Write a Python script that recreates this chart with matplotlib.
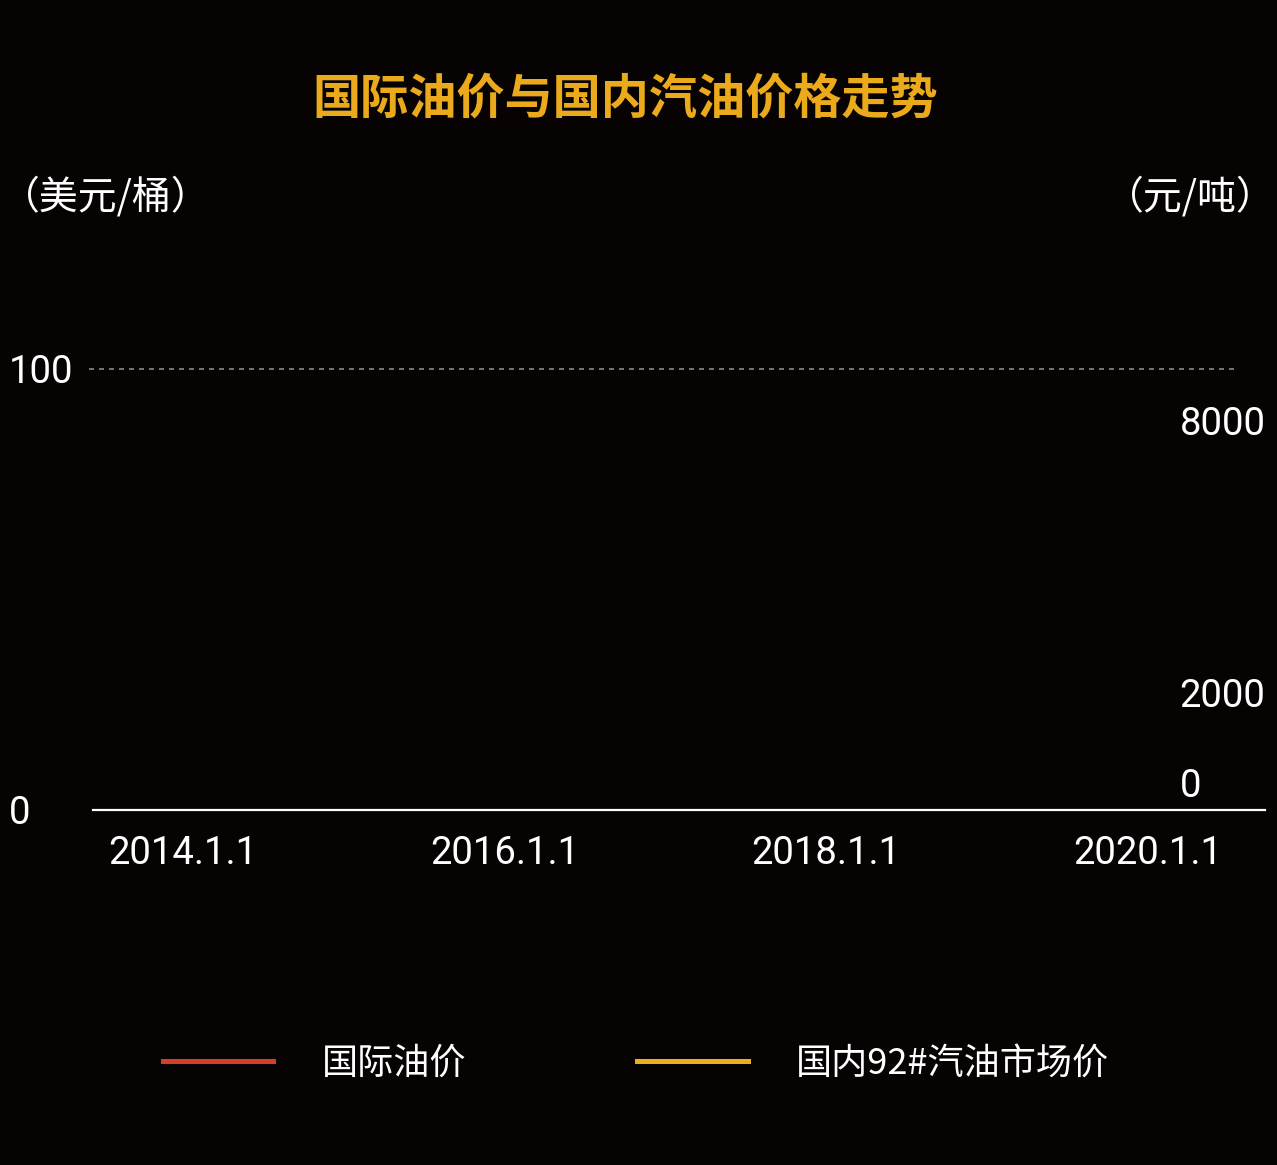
import matplotlib
matplotlib.use("Agg")
import matplotlib.pyplot as plt
import matplotlib.dates as mdates
from datetime import datetime

# ---- data (series are empty in the reference frame) ----
title = "国际油价与国内汽油价格走势"
series_names = ["国际油价", "国内92#汽油市场价"]
series_colors = ["#D43F2A", "#EBAF1A"]
dates = []
intl_oil = []          # 美元/桶
domestic_92 = []       # 元/吨
x_ticks = ["2014.1.1", "2016.1.1", "2018.1.1", "2020.1.1"]
left_ticks = [0, 100]
right_ticks = [0, 2000, 8000]
left_unit = "（美元/桶）"
right_unit = "（元/吨）"

BG = "#070303"
plt.rcParams['font.family'] = ['Roboto', 'Noto Sans CJK SC', 'DejaVu Sans']

W, H = 1277, 1165
fig = plt.figure(figsize=(W / 100, H / 100), dpi=100, facecolor=BG)

ax_l, ax_r, ax_b, ax_t = 93, 1265, 810, 369
ax = fig.add_axes([ax_l / W, 1 - ax_b / H, (ax_r - ax_l) / W, (ax_b - ax_t) / H])
ax.set_facecolor(BG)

xt = [datetime.strptime(s, "%Y.%m.%d") for s in x_ticks]
l1, = ax.plot(dates, intl_oil, color=series_colors[0], lw=4, label=series_names[0])
ax2 = ax.twinx()
l2, = ax2.plot(dates, domestic_92, color=series_colors[1], lw=4, label=series_names[1])

ax.set_xlim(mdates.date2num(datetime(2013, 6, 10)), mdates.date2num(datetime(2020, 9, 24)))
ax.set_ylim(0, 100)
ax2.set_ylim(-280, 9470)

ax.set_xticks(mdates.date2num(xt))
ax.set_xticklabels(x_ticks)
ax.set_yticks(left_ticks)
ax.set_yticklabels([str(v) for v in left_ticks])
ax2.set_yticks(right_ticks)
ax2.set_yticklabels([str(v) for v in right_ticks])

for a in (ax, ax2):
    for s in a.spines.values():
        s.set_visible(False)
ax.spines['bottom'].set_visible(True)
ax.spines['bottom'].set_color("white")
ax.spines['bottom'].set_linewidth(1.6)

ax.tick_params(axis='x', length=0, pad=18, labelsize=27.5, labelcolor='white')
ax.tick_params(axis='y', length=0, pad=60.5, labelsize=27.5, labelcolor='white')
for lab in ax.get_yticklabels():
    lab.set_ha('left')
ax2.tick_params(axis='y', length=0, pad=-61.5, labelsize=27.5, labelcolor='white')
for lab in ax2.get_yticklabels():
    lab.set_ha('left')
    lab.set_va('baseline')

ax.axhline(100, xmin=-0.003, xmax=0.977, color="#8a8a8a", lw=1.2,
           ls=(0, (3, 3)), clip_on=False)

fig.text(625 / W, 1 - 99 / H, title, color="#EBAA1C", fontsize=34.7,
         fontweight='bold', ha='center', va='center',
         family=['Noto Sans CJK SC'])
fig.text(1 / W, 1 - 197 / H, left_unit, color='white', fontsize=28,
         ha='left', va='center', family=['Noto Sans CJK SC'])
fig.text(1276 / W, 1 - 197 / H, right_unit, color='white', fontsize=28,
         ha='right', va='center', family=['Noto Sans CJK SC'])

leg = fig.legend(handles=[l1, l2], loc='center', bbox_to_anchor=(636 / W, 1 - 1064 / H),
                 ncol=2, frameon=False, handlelength=3.06,
                 handletextpad=1.33, columnspacing=4.75,
                 prop={'family': ['Noto Sans CJK SC'], 'size': 26})
for t in leg.get_texts():
    t.set_color('white')
for h in leg.legend_handles:
    h.set_linewidth(3.6)

fig.savefig("out.png", dpi=100, facecolor=BG)
